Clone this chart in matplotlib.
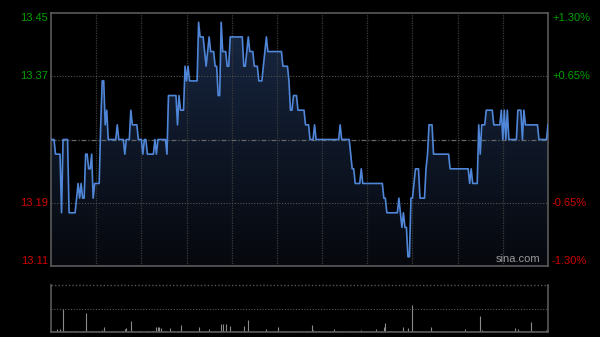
import numpy as np
import matplotlib
matplotlib.use("Agg")
import matplotlib.pyplot as plt
from matplotlib.colors import LinearSegmentedColormap

plt.rcParams['font.family'] = ['Liberation Sans', 'DejaVu Sans']

# previous close and minute prices (9:30-12:00, 13:00-16:00)
prev_close = 13.28
prices = [
    13.28, 13.28, 13.28, 13.26, 13.26, 13.26, 13.26, 13.18, 13.28, 13.28,
    13.28, 13.28, 13.18, 13.18, 13.18, 13.18, 13.18, 13.20, 13.22, 13.20,
    13.22, 13.20, 13.20, 13.26, 13.26, 13.24, 13.24, 13.26, 13.20, 13.22,
    13.22, 13.22, 13.22, 13.30, 13.36, 13.36, 13.30, 13.32, 13.28, 13.28,
    13.28, 13.28, 13.28, 13.28, 13.30, 13.28, 13.28, 13.28, 13.28, 13.26,
    13.28, 13.28, 13.28, 13.32, 13.30, 13.30, 13.30, 13.30, 13.28, 13.28,
    13.28, 13.26, 13.28, 13.28, 13.26, 13.26, 13.26, 13.26, 13.26, 13.28,
    13.26, 13.28, 13.28, 13.28, 13.28, 13.28, 13.28, 13.26, 13.34, 13.34,
    13.34, 13.34, 13.34, 13.34, 13.30, 13.34, 13.32, 13.32, 13.32, 13.38,
    13.36, 13.38, 13.36, 13.36, 13.36, 13.36, 13.36, 13.36, 13.44, 13.42,
    13.42, 13.42, 13.40, 13.38, 13.40, 13.42, 13.40, 13.40, 13.40, 13.38,
    13.38, 13.34, 13.34, 13.44, 13.40, 13.40, 13.40, 13.38, 13.38, 13.42,
    13.42, 13.42, 13.42, 13.42, 13.42, 13.42, 13.42, 13.42, 13.38, 13.38,
    13.40, 13.42, 13.40, 13.40, 13.40, 13.38, 13.38, 13.38, 13.36, 13.36,
    13.36, 13.38, 13.40, 13.42, 13.40, 13.40, 13.40, 13.40, 13.40, 13.40,
    13.40, 13.40, 13.40, 13.40, 13.38, 13.38, 13.38, 13.38, 13.36, 13.32,
    13.32, 13.34, 13.34, 13.34, 13.32, 13.32, 13.32, 13.32, 13.32, 13.30,
    13.30, 13.30, 13.28, 13.28, 13.28, 13.30, 13.28, 13.28, 13.28, 13.28,
    13.28, 13.28, 13.28, 13.28, 13.28, 13.28, 13.28, 13.28, 13.28, 13.28,
    13.28, 13.28, 13.30, 13.28, 13.28, 13.28, 13.28, 13.28, 13.28, 13.26,
    13.24, 13.24, 13.22, 13.22, 13.22, 13.22, 13.24, 13.22, 13.22, 13.22,
    13.22, 13.22, 13.22, 13.22, 13.22, 13.22, 13.22, 13.22, 13.22, 13.22,
    13.22, 13.20, 13.20, 13.18, 13.18, 13.18, 13.18, 13.18, 13.18, 13.18,
    13.18, 13.20, 13.18, 13.16, 13.18, 13.16, 13.16, 13.12, 13.12, 13.20,
    13.20, 13.22, 13.24, 13.24, 13.24, 13.20, 13.20, 13.20, 13.20, 13.24,
    13.26, 13.30, 13.30, 13.30, 13.26, 13.26, 13.26, 13.26, 13.26, 13.26,
    13.26, 13.26, 13.26, 13.26, 13.26, 13.24, 13.24, 13.24, 13.24, 13.24,
    13.24, 13.24, 13.24, 13.24, 13.24, 13.24, 13.24, 13.24, 13.22, 13.24,
    13.22, 13.22, 13.22, 13.22, 13.30, 13.26, 13.30, 13.30, 13.30, 13.32,
    13.32, 13.32, 13.32, 13.32, 13.30, 13.30, 13.30, 13.30, 13.30, 13.32,
    13.28, 13.32, 13.28, 13.32, 13.28, 13.28, 13.28, 13.28, 13.28, 13.28,
    13.32, 13.32, 13.32, 13.28, 13.32, 13.30, 13.30, 13.30, 13.30, 13.30,
    13.30, 13.30, 13.30, 13.30, 13.28, 13.28, 13.28, 13.28, 13.28, 13.28,
    13.30,
]

# volume per minute (relative units, 100 = top of panel)
volumes = [
    3, 2, 2, 2, 6, 2, 7, 2, 49, 3, 2, 2, 2, 2, 1, 2, 2, 2, 2, 1, 2, 2, 2, 41, 2, 2, 2, 2, 2, 1,
    2, 2, 2, 2, 4, 11, 2, 2, 1, 1, 2, 2, 1, 1, 2, 2, 1, 2, 3, 6, 8, 2, 2, 24, 2, 2, 1, 1, 2, 2,
    2, 1, 1, 2, 2, 3, 1, 2, 2, 2, 10, 10, 10, 9, 2, 2, 3, 2, 1, 8, 2, 3, 2, 1, 2, 2, 14, 2, 1, 2,
    2, 2, 2, 3, 2, 1, 2, 2, 10, 2, 2, 2, 2, 2, 3, 7, 2, 2, 2, 2, 2, 2, 2, 18, 18, 2, 18, 2, 2, 13,
    2, 2, 2, 2, 1, 2, 2, 2, 13, 2, 2, 25, 3, 2, 2, 2, 1, 2, 2, 2, 2, 2, 3, 6, 2, 2, 1, 2, 2, 2,
    2, 10, 2, 2, 2, 2, 2, 2, 2, 3, 2, 2, 2, 2, 2, 2, 2, 1, 1, 2, 2, 2, 3, 14, 4, 2, 2, 2, 2, 2,
    2, 2, 2, 2, 1, 2, 2, 2, 6, 2, 2, 2, 2, 2, 2, 1, 2, 2, 3, 2, 2, 2, 3, 2, 2, 2, 4, 2, 2, 2,
    2, 2, 2, 2, 2, 2, 6, 2, 2, 2, 2, 11, 20, 3, 2, 2, 2, 2, 2, 2, 2, 3, 2, 2, 10, 2, 2, 8, 3, 2,
    57, 3, 2, 2, 2, 2, 2, 2, 2, 2, 2, 3, 11, 2, 2, 2, 2, 2, 2, 2, 2, 2, 2, 2, 2, 2, 2, 2, 2, 2,
    2, 2, 2, 2, 2, 6, 2, 2, 2, 2, 2, 2, 2, 2, 2, 34, 4, 2, 2, 2, 2, 2, 2, 2, 2, 2, 2, 2, 2, 2,
    2, 2, 2, 2, 2, 2, 2, 2, 8, 2, 6, 2, 2, 2, 2, 2, 2, 2, 2, 22, 2, 2, 2, 2, 2, 2, 2, 3, 3, 4, 5,
]

pct_levels = [0.013, 0.0065, -0.0065, -0.013]
grid_minutes = [30, 60, 90, 120, 150, 180, 210, 240, 270, 300]
total_minutes = 330

up_color = '#00a000'
down_color = '#d00000'
frame_color = '#5a5a5a'
grid_color = '#3c3c3c'

x = np.arange(len(prices))
y = np.array(prices)
ymin = prev_close * (1 - 0.013)
ymax = prev_close * (1 + 0.013)

fig = plt.figure(figsize=(6, 3.37), dpi=100, facecolor='black')
ax = fig.add_axes([51/600, 1 - 266/337, 497/600, 253/337], facecolor='black')
axv = fig.add_axes([51/600, 1 - 332/337, 497/600, 47/337], facecolor='black')

ax.set_xlim(0, total_minutes)
ax.set_ylim(ymin, ymax)

# gradient fill under the price line
cmap = LinearSegmentedColormap.from_list('fill', ['#06080d', '#182844'])
grad = np.linspace(0, 1, 256).reshape(-1, 1)
img = ax.imshow(grad, cmap=cmap, origin='lower', aspect='auto',
                extent=[0, total_minutes, ymin, ymax], zorder=1)
poly = ax.fill_between(x, y, ymin, color='none', lw=0)
img.set_clip_path(poly.get_paths()[0], transform=ax.transData)

# grid
for m in grid_minutes:
    ax.axvline(m, color=grid_color, lw=0.9, ls=(0, (1, 1)), zorder=2)
for p in pct_levels[1:3]:
    ax.axhline(prev_close * (1 + p), color='#555555', lw=0.8, ls=(0, (1, 1.5)), zorder=2)
ax.axhline(prev_close, color='#666666', lw=0.9, ls=(0, (4, 1.5, 1, 1.5)), zorder=2)

ax.plot(x, y, color='#4f86d8', lw=1.2, zorder=3)

ax.set_xticks([])
ax.set_yticks([])
for s in ax.spines.values():
    s.set_color(frame_color)
    s.set_linewidth(1.2)

# axis labels
for p in pct_levels:
    val = prev_close * (1 + p)
    col = up_color if p > 0 else down_color
    va = 'center'
    if p == pct_levels[0]:
        va = 'top'
    elif p == pct_levels[-1]:
        va = 'bottom'
    ax.text(-0.006, val, f'{val:.2f}', transform=ax.get_yaxis_transform(),
            ha='right', va=va, color=col, fontsize=8)
    ax.text(1.008, val, f'{p*100:+.2f}%', transform=ax.get_yaxis_transform(),
            ha='left', va=va, color=col, fontsize=8)

ax.text(0.985, 0.008, 'sina.com', transform=ax.transAxes, ha='right', va='bottom',
        color='#9a9a9a', fontsize=8, zorder=5)

# volume panel
axv.set_xlim(0, total_minutes)
axv.set_ylim(0, 100)
axv.vlines(x, 0, volumes, color='#8a8a8a', lw=0.8)
axv.axhline(50, color='#555555', lw=0.8, ls=(0, (1, 1.5)))
axv.axhline(100, color='#555555', lw=1.0, ls=(0, (1, 1.5)), clip_on=False)
axv.set_xticks([])
axv.set_yticks([])
axv.spines['top'].set_visible(False)
for k in ['left', 'right', 'bottom']:
    axv.spines[k].set_color(frame_color)
    axv.spines[k].set_linewidth(1.2)

fig.savefig('out.png', dpi=100, facecolor='black')
